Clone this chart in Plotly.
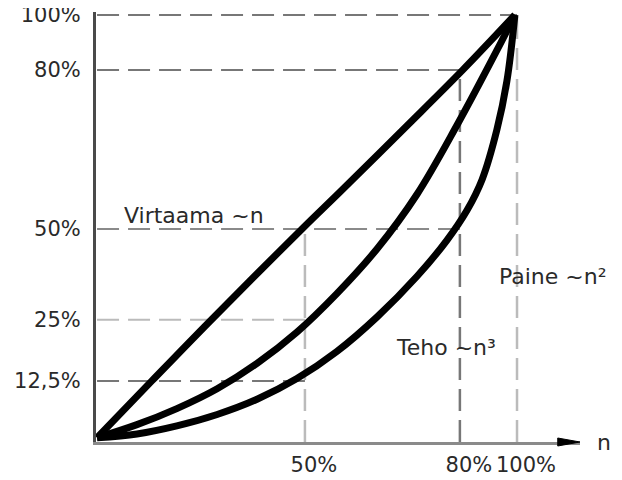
import plotly.graph_objects as go

# Schematic chart: values are positions (in % of the drawn axis length)
virtaama_x = [0, 13.1, 26.7, 48.8, 57.9, 73.8, 87.1, 99.5]
virtaama_y = [0, 13.5, 27.4, 49.4, 58.2, 73.8, 87.0, 100]

paine_x = [0, 9.5, 19.0, 28.6, 38.1, 47.6, 57.1, 66.7, 76.2, 85.7, 95.2, 99.5]
paine_y = [0, 3.1, 6.9, 11.6, 17.6, 25.0, 34.1, 44.7, 57.6, 73.9, 91.6, 100]

teho_x = [0, 9.5, 19.0, 28.6, 38.1, 47.6, 57.1, 66.7, 76.2, 83.3, 88.1, 91.7, 95.2, 97.6, 99.5]
teho_y = [0, 0.9, 2.8, 5.5, 9.1, 14.0, 20.4, 28.6, 38.2, 46.7, 53.8, 61.1, 72.8, 84.4, 100]

# tick positions on the drawing and their labels
x_tick_pos = [49.5, 86.4, 100]
x_tick_text = ["50%", "80%", "100%"]
y_tick_pos = [13.4, 27.9, 49.4, 87.0, 100]
y_tick_text = ["12,5%", "25%", "50%", "80%", "100%"]

# dashed guide lines: horizontal (level, end x) and vertical (position, top y)
h_guide_y = [100, 87.0, 49.4, 27.9, 13.4]
h_guide_end = [100, 86.4, 86.4, 49.5, 49.5]
h_guide_col = ["#777777", "#777777", "#8a8a8a", "#bbbbbb", "#777777"]
v_guide_x = [49.5, 86.4, 100]
v_guide_top = [49.4, 87.0, 100]
v_guide_col = ["#bbbbbb", "#777777", "#bbbbbb"]

FONT = "DejaVu Sans"
TXT = "#2a2a2a"

fig = go.Figure()
for xs, ys in [(virtaama_x, virtaama_y), (paine_x, paine_y), (teho_x, teho_y)]:
    fig.add_trace(go.Scatter(x=xs, y=ys, mode="lines",
                             line=dict(color="black", width=7, shape="spline", smoothing=1.0),
                             showlegend=False, hoverinfo="skip"))

shapes = []
for yv, xe, c in zip(h_guide_y, h_guide_end, h_guide_col):
    shapes.append(dict(type="line", xref="x", yref="y", x0=0, x1=xe, y0=yv, y1=yv,
                       line=dict(color=c, width=2, dash="22px,9px"), layer="below"))
for xv, yt, c in zip(v_guide_x, v_guide_top, v_guide_col):
    shapes.append(dict(type="line", xref="x", yref="y", x0=xv, x1=xv, y0=-1, y1=yt,
                       line=dict(color=c, width=2.5, dash="22px,9px"), layer="below"))
# arrow head at the end of the n axis
shapes.append(dict(type="path", xref="paper", yref="paper",
                   path="M 0.954 0.0093 L 1.0 0 L 0.954 -0.0093 Z",
                   fillcolor="black", line=dict(color="black", width=1)))

annotations = [
    dict(text="Virtaama ~n", x=23.0, y=52.5, xref="x", yref="y", showarrow=False,
         font=dict(family=FONT, size=22, color=TXT)),
    dict(text="Paine ~n²", x=108.6, y=38.1, xref="x", yref="y", showarrow=False,
         font=dict(family=FONT, size=22, color=TXT)),
    dict(text="Teho ~n³", x=83.1, y=21.3, xref="x", yref="y", showarrow=False,
         font=dict(family=FONT, size=22, color=TXT)),
    dict(text="n", x=1.05, y=0, xref="paper", yref="paper", showarrow=False,
         xanchor="center", yanchor="middle",
         font=dict(family=FONT, size=22, color=TXT)),
]

# the page body adds an 8px offset, so the margins are reduced by 8px on the left/top
fig.update_layout(
    width=622, height=480,
    margin=dict(l=88, r=50, t=4, b=46, autoexpand=False),
    paper_bgcolor="white", plot_bgcolor="white",
    shapes=shapes, annotations=annotations,
    xaxis=dict(range=[-0.25, 115], showgrid=False, zeroline=False, automargin=False,
               showline=True, linecolor="#8a8a8a", linewidth=3,
               tickvals=x_tick_pos, ticktext=x_tick_text, ticks="",
               ticklabelstandoff=2, ticklabelshift=9, ticklabeloverflow="allow",
               tickfont=dict(family=FONT, size=21, color=TXT)),
    yaxis=dict(range=[-1, 100.7], showgrid=False, zeroline=False, automargin=False,
               showline=True, linecolor="#4a4a4a", linewidth=3,
               tickvals=y_tick_pos, ticktext=y_tick_text, ticks="",
               ticklabelstandoff=8, ticklabeloverflow="allow",
               tickfont=dict(family=FONT, size=21, color=TXT)),
)

fig.write_html("out.html")
